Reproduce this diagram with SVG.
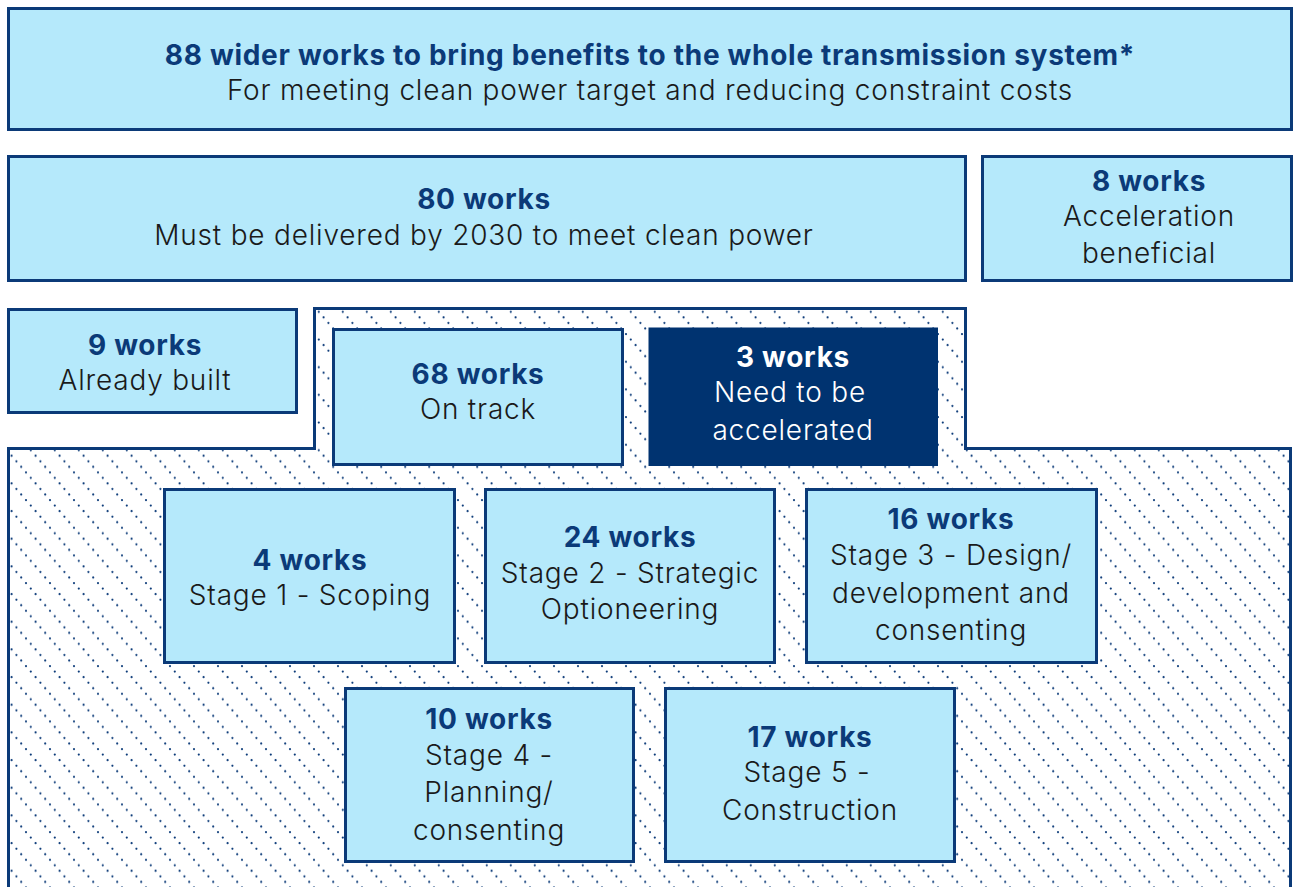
<svg xmlns="http://www.w3.org/2000/svg" width="1293" height="887" viewBox="0 0 1293 887">
<defs>
<pattern id="dots" patternUnits="userSpaceOnUse" x="0" y="0" width="24" height="27.67">
<circle cx="2" cy="2" r="1.1" fill="#0b3a78"/>
<circle cx="6.8" cy="7.53" r="1.1" fill="#0b3a78"/>
<circle cx="11.6" cy="13.06" r="1.1" fill="#0b3a78"/>
<circle cx="16.4" cy="18.6" r="1.1" fill="#0b3a78"/>
<circle cx="21.2" cy="24.13" r="1.1" fill="#0b3a78"/>
</pattern>
</defs>
<style>
.box{fill:#b5e9fb;stroke:#0b3a78;stroke-width:3}
.dark{fill:#003370;stroke:#003370;stroke-width:1}
.hatch{fill:url(#dots);stroke:#0b3a78;stroke-width:3}
text{font-family:Inter,"Open Sans","Liberation Sans",sans-serif;text-anchor:middle}
.b{font-weight:700;font-size:28px;letter-spacing:0.7px;fill:#0b3a78}
.r{font-weight:300;font-size:28px;letter-spacing:0.8px;fill:#1a1a1a}
.w{fill:#ffffff}
</style>
<rect width="1293" height="887" fill="#ffffff"/>
<g id="hatch-region">
<path class="hatch" d="M314.5,308.5 H965.5 V448.5 H1290.5 V890 H8.5 V448.5 H314.5 Z"/>
</g>
<g id="connectors"></g>
<g id="node-88">
<rect class="box" x="8.5" y="8.5" width="1283" height="121"/>
<text class="b" x="650" y="65">88 wider works to bring benefits to the whole transmission system*</text>
<text class="r" x="650" y="100">For meeting clean power target and reducing constraint costs</text>
</g>
<g id="node-80">
<rect class="box" x="8.5" y="156.5" width="957" height="124"/>
<text class="b" x="484" y="209">80 works</text>
<text class="r" x="484" y="245">Must be delivered by 2030 to meet clean power</text>
</g>
<g id="node-8">
<rect class="box" x="982.5" y="156.5" width="309" height="124"/>
<text class="b" x="1149" y="191">8 works</text>
<text class="r" x="1149" y="226">Acceleration</text>
<text class="r" x="1149" y="263">beneficial</text>
</g>
<g id="node-9">
<rect class="box" x="8.5" y="309.5" width="288" height="103"/>
<text class="b" x="145" y="355">9 works</text>
<text class="r" x="145" y="390">Already built</text>
</g>
<g id="node-68">
<rect class="box" x="333.5" y="329.5" width="289" height="135"/>
<text class="b" x="478" y="384">68 works</text>
<text class="r" x="478" y="419">On track</text>
</g>
<g id="node-3">
<rect class="dark" x="649" y="328" width="288.5" height="137.5"/>
<text class="b w" x="793" y="367">3 works</text>
<text class="r w" x="790" y="402">Need to be</text>
<text class="r w" x="793" y="440">accelerated</text>
</g>
<g id="node-stage1">
<rect class="box" x="164.5" y="489.5" width="290" height="173"/>
<text class="b" x="310" y="570">4 works</text>
<text class="r" x="310" y="605">Stage 1 - Scoping</text>
</g>
<g id="node-stage2">
<rect class="box" x="485.5" y="489.5" width="289" height="173"/>
<text class="b" x="630" y="547">24 works</text>
<text class="r" x="630" y="583">Stage 2 - Strategic</text>
<text class="r" x="630" y="619">Optioneering</text>
</g>
<g id="node-stage3">
<rect class="box" x="806.5" y="489.5" width="290" height="173"/>
<text class="b" x="951" y="529">16 works</text>
<text class="r" x="951" y="565">Stage 3 - Design/</text>
<text class="r" x="951" y="603">development and</text>
<text class="r" x="951" y="640">consenting</text>
</g>
<g id="node-stage4">
<rect class="box" x="345.5" y="688.5" width="288" height="173"/>
<text class="b" x="489" y="729">10 works</text>
<text class="r" x="489" y="765">Stage 4 -</text>
<text class="r" x="489" y="802">Planning/</text>
<text class="r" x="489" y="840">consenting</text>
</g>
<g id="node-stage5">
<rect class="box" x="665.5" y="688.5" width="289" height="173"/>
<text class="b" x="810" y="747">17 works</text>
<text class="r" x="807" y="782">Stage 5 -</text>
<text class="r" x="810" y="820">Construction</text>
</g>
</svg>
